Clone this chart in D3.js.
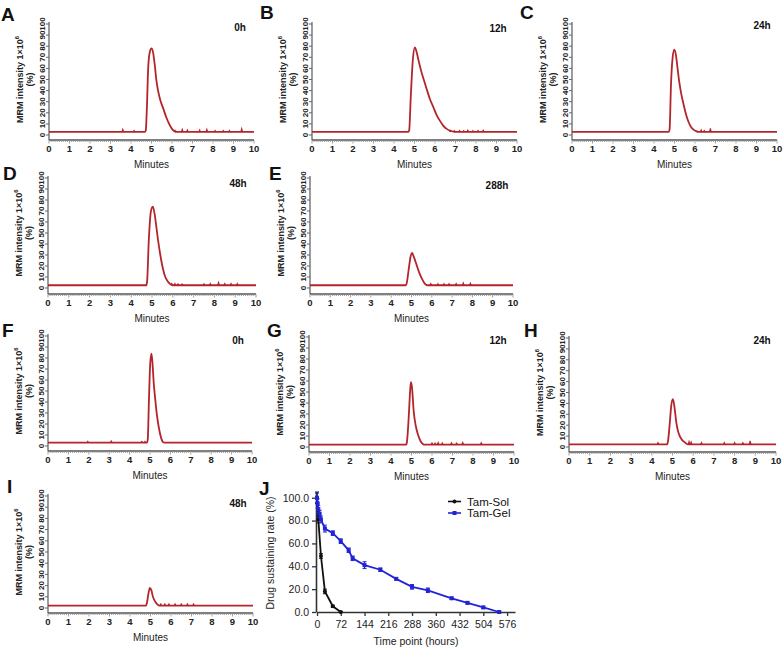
<!DOCTYPE html>
<html><head><meta charset="utf-8">
<script src="https://cdn.jsdelivr.net/npm/d3@7"></script>
<style>body{margin:0;background:#fff}svg{display:block;font-family:"Liberation Sans",Arial,sans-serif}</style>
</head><body>
<script>
// ---------- data ----------
const minuteTicks = [0,1,2,3,4,5,6,7,8,9,10];
const intensityTicks = [0,10,20,30,40,50,60,70,80,90,100];
const panelLetters = ["A","B","C","D","E","F","G","H","I"];
const timeLabels = ["0h","12h","24h","48h","288h","0h","12h","24h","48h"];

const traceA = [[0,2.8],[4.68,2.8],[4.72,4],[4.77,22],[4.84,61],[4.92,75],[5.0,78],[5.08,74],[5.16,63],[5.24,49],[5.32,40],[5.42,32],[5.57,24],[5.72,16],[5.86,10],[6.0,5.5],[6.12,3.5],[6.25,2.8],[10,2.8]];
const spikesA = [[3.6,5],[4.15,4],[6.15,4],[6.5,5],[6.75,4.5],[7.35,4.5],[7.7,5],[8.1,4],[8.5,4],[8.8,4],[9.4,5.5]];
const traceB = [[0,2.8],[4.7,2.8],[4.74,4],[4.82,35],[4.92,68],[5.02,79],[5.1,75],[5.2,67],[5.32,58],[5.45,50],[5.6,41],[5.76,32],[5.92,25],[6.08,18],[6.25,12.5],[6.4,8.5],[6.57,5.5],[6.75,3.8],[6.9,3],[7.0,2.8],[10,2.8]];
const spikesB = [[6.75,4],[6.95,3.8],[7.2,4],[7.4,3.8],[7.6,4.2],[7.85,3.8],[8.1,4],[8.35,4.2]];
const traceC = [[0,2.8],[4.72,2.8],[4.76,5],[4.83,46],[4.91,70],[4.99,77],[5.07,72],[5.15,60],[5.23,48],[5.32,38],[5.45,27],[5.57,18],[5.69,11.5],[5.8,7.5],[5.93,4.8],[6.05,3.5],[6.18,2.8],[10,2.8]];
const spikesC = [[6.3,4.5],[6.45,4],[6.75,6]];
const traceD = [[0,2.5],[4.72,2.5],[4.76,5],[4.85,45],[4.95,70],[5.04,74],[5.12,68],[5.2,57],[5.28,45],[5.4,30],[5.52,18],[5.64,10],[5.76,6],[5.92,3],[6.0,2.5],[10,2.5]];
const spikesD = [[5.95,4],[6.1,4],[6.25,3.8],[6.45,3.6],[7.5,3.8],[7.8,4],[8.2,5],[8.5,4],[8.8,4],[9.1,4]];
const traceE = [[0,2.5],[4.72,2.5],[4.76,4],[4.87,18],[4.95,28],[5.03,31.8],[5.12,28],[5.25,21],[5.38,14],[5.5,9],[5.6,5.5],[5.7,3.2],[5.78,2.5],[10,2.5]];
const spikesE = [[5.95,4],[6.3,3.8],[6.6,3.8],[6.85,3.8],[7.2,4],[7.55,4.5],[7.9,4.2]];
const traceF = [[0,3],[4.85,3],[4.89,6],[4.95,43],[5.01,75],[5.07,84],[5.12,76],[5.18,58],[5.26,42],[5.34,28],[5.45,15],[5.56,6.5],[5.64,3.5],[5.7,3],[10,3]];
const spikesF = [[1.95,4.2],[3.1,4.5],[4.6,4],[4.75,4]];
const traceG = [[0,2.2],[4.74,2.2],[4.78,5],[4.87,29],[4.93,50],[4.97,59],[5.02,55],[5.11,32],[5.2,20],[5.33,10.5],[5.44,5.5],[5.54,3],[5.6,2.2],[10,2.2]];
const spikesG = [[6.0,3.6],[6.15,3.5],[6.3,4],[6.5,3.6],[6.95,3.8],[7.2,3.5],[7.5,4],[8.4,3.8]];
const traceH = [[0,2.4],[4.74,2.4],[4.78,5],[4.86,20],[4.94,38],[5.02,44],[5.1,36],[5.18,23],[5.26,15],[5.34,10.5],[5.46,6.5],[5.58,4.5],[5.74,2.4],[10,2.4]];
const spikesH = [[4.3,4],[5.8,5],[5.9,4.5],[6.4,4],[7.5,4],[8.0,4],[8.4,3.8],[8.75,5.5]];
const traceI = [[0,2.2],[4.78,2.2],[4.82,4],[4.9,13],[4.97,18],[5.04,16],[5.12,10],[5.22,6],[5.32,3.5],[5.42,2.2],[10,2.2]];
const spikesI = [[5.5,3.5],[5.7,3.5],[5.9,3.5],[6.2,3.6],[6.5,3.6],[6.8,3.6],[7.1,3.5]];

const traces = [traceA,traceB,traceC,traceD,traceE,traceF,traceG,traceH,traceI];
const spikes = [spikesA,spikesB,spikesC,spikesD,spikesE,spikesF,spikesG,spikesH,spikesI];

// panel J
const hourTicks = [0,72,144,216,288,360,432,504,576];
const rateTicks = [0,20,40,60,80,100];
const solTimes = [0,4,12,24,48,72];
const solValues = [100,81,49,18,5,0];
const solErrors = [5,3,2,2,1,0.5];
const gelTimes = [0,2,4,8,12,24,48,72,96,108,144,192,240,288,336,408,456,504,552];
const gelValues = [100,95,90,86,81,73,69,62,54,47,41,37,29,22,19,12,8,4,0];
const gelErrors = [4,4,3,3,3,3,2,2,2,2,3,1.5,1,2,2,1,1,1,0.5];
const seriesNames = ["Tam-Sol","Tam-Gel"];

// ---------- layout ----------
const layout = [
  {x0:49,x1:254,yT:24,yB:135,ax:140, L:[1,21], T:[240,27]},
  {x0:312,x1:517,yT:24,yB:135,ax:140, L:[260,19], T:[498,28]},
  {x0:572,x1:777,yT:24,yB:135,ax:140, L:[520,19], T:[762,25]},
  {x0:48,x1:256,yT:178,yB:288,ax:294, L:[3,180], T:[238,183]},
  {x0:310,x1:513,yT:178,yB:288,ax:294, L:[269,180], T:[497,185]},
  {x0:48,x1:252,yT:336,yB:446,ax:451, L:[2,337], T:[238,340]},
  {x0:309,x1:514,yT:337,yB:447,ax:452, L:[267,337], T:[498,340]},
  {x0:569,x1:776,yT:338,yB:447,ax:452, L:[524,337], T:[762,340]},
  {x0:48,x1:253,yT:496,yB:608,ax:613, L:[7,493], T:[238,503]}
];
const RED = "#b3252b";

const svg = d3.select("body").append("svg").attr("width",783).attr("height",648);

layout.forEach((p,i)=>{
  const g = svg.append("g");
  const x = d3.scaleLinear().domain([0,10]).range([p.x0,p.x1]);
  const y = d3.scaleLinear().domain([0,100]).range([p.yB,p.yT]);
  // y axis
  g.append("line").attr("x1",p.x0).attr("x2",p.x0).attr("y1",p.yT-2).attr("y2",p.ax)
    .attr("stroke","#666").attr("stroke-width",1.3);
  intensityTicks.forEach(v=>{
    g.append("line").attr("x1",p.x0-3).attr("x2",p.x0).attr("y1",y(v)).attr("y2",y(v)).attr("stroke","#666");
    g.append("text").attr("transform",`translate(${p.x0-4},${y(v)}) rotate(-90)`)
      .attr("text-anchor","middle").attr("font-size",8).attr("font-weight","bold").attr("fill","#222").text(v);
  });
  // x axis
  g.append("line").attr("x1",p.x0).attr("x2",p.x1).attr("y1",p.ax).attr("y2",p.ax)
    .attr("stroke","#555").attr("stroke-width",1.4);
  d3.range(0,101).forEach(k=>{
    const xv = k/10;
    g.append("line").attr("x1",x(xv)).attr("x2",x(xv)).attr("y1",p.ax).attr("y2",p.ax+(k%10===0?3.5:2))
      .attr("stroke","#888").attr("stroke-width",0.8);
  });
  minuteTicks.forEach(v=>{
    g.append("text").attr("x",x(v)).attr("y",p.ax+12).attr("text-anchor","middle")
      .attr("font-size",9.5).attr("font-weight","bold").attr("fill","#222").text(v);
  });
  g.append("text").attr("x",(p.x0+p.x1)/2).attr("y",p.ax+28).attr("text-anchor","middle")
    .attr("font-size",10).attr("fill","#222").text("Minutes");
  // y title
  const cy = (p.yT+p.yB)/2;
  const t1 = g.append("text").attr("transform",`translate(${p.x0-26},${cy}) rotate(-90)`)
    .attr("text-anchor","middle").attr("font-size",9).attr("font-weight","bold").attr("fill","#222");
  t1.append("tspan").text("MRM intensity 1×10");
  t1.append("tspan").attr("font-size",6).attr("dy",-4).text("6");
  g.append("text").attr("transform",`translate(${p.x0-16},${cy}) rotate(-90)`)
    .attr("text-anchor","middle").attr("font-size",9).attr("font-weight","bold").attr("fill","#222").text("(%)");
  // trace
  const line = d3.line().x(d=>x(d[0])).y(d=>y(d[1])).curve(d3.curveMonotoneX);
  g.append("path").attr("d",line(traces[i])).attr("fill","none").attr("stroke",RED).attr("stroke-width",1.8);
  const base = traces[i][0][1];
  const sl = d3.line().x(d=>x(d[0])).y(d=>y(d[1]));
  spikes[i].forEach(s=>{
    g.append("path").attr("d",sl([[s[0]-0.04,base],[s[0],s[1]],[s[0]+0.04,base]]))
      .attr("fill","none").attr("stroke",RED).attr("stroke-width",1.2);
  });
  // labels
  g.append("text").attr("x",p.L[0]).attr("y",p.L[1]).attr("font-size",19).attr("font-weight","bold").attr("fill","#111").text(panelLetters[i]);
  g.append("text").attr("x",p.T[0]).attr("y",p.T[1]+3.5).attr("text-anchor","middle").attr("font-size",10).attr("font-weight","bold").attr("fill","#111").text(timeLabels[i]);
});

// ---------- panel J ----------
{
  const g = svg.append("g");
  const x = d3.scaleLinear().domain([0,600]).range([317,515]);
  const y = d3.scaleLinear().domain([0,105]).range([612,492]);
  g.append("text").attr("x",259).attr("y",495).attr("font-size",19).attr("font-weight","bold").attr("fill","#111").text("J");
  const xa = g.append("g").attr("transform","translate(0,612)")
    .call(d3.axisBottom(x).tickValues(hourTicks).tickSize(4).tickSizeOuter(0));
  const ya = g.append("g").attr("transform","translate(316,0)")
    .call(d3.axisLeft(y).tickValues(rateTicks).tickFormat(d3.format(".1f")).tickSize(4).tickSizeOuter(0));
  [xa,ya].forEach(a=>{
    a.select(".domain").attr("stroke","#333").attr("stroke-width",1.6);
    a.selectAll(".tick line").attr("stroke","#333").attr("stroke-width",1.3);
    a.selectAll("text").attr("font-size",10.5).attr("font-family","Liberation Sans, Arial, sans-serif").attr("fill","#222");
  });
  xa.selectAll("text").attr("dy","0.9em");
  g.append("text").attr("x",416).attr("y",645).attr("text-anchor","middle").attr("font-size",10.5).attr("fill","#222").text("Time point (hours)");
  g.append("text").attr("transform","translate(274,553) rotate(-90)").attr("text-anchor","middle").attr("font-size",10.5).attr("fill","#222").text("Drug sustaining rate (%)");

  const series = [
    {t:solTimes,v:solValues,e:solErrors,c:"#111"},
    {t:gelTimes,v:gelValues,e:gelErrors,c:"#2323d6"}
  ];
  series.forEach((s,si)=>{
    const pts = s.t.map((t,k)=>[t,s.v[k],s.e[k]]);
    g.append("path").attr("d",d3.line().x(d=>x(d[0])).y(d=>y(d[1]))(pts))
      .attr("fill","none").attr("stroke",s.c).attr("stroke-width",1.8);
    pts.forEach(d=>{
      g.append("line").attr("x1",x(d[0])).attr("x2",x(d[0])).attr("y1",y(d[1]-d[2])).attr("y2",y(d[1]+d[2])).attr("stroke",s.c).attr("stroke-width",1.2);
      g.append("line").attr("x1",x(d[0])-2).attr("x2",x(d[0])+2).attr("y1",y(d[1]+d[2])).attr("y2",y(d[1]+d[2])).attr("stroke",s.c).attr("stroke-width",1);
      g.append("line").attr("x1",x(d[0])-2).attr("x2",x(d[0])+2).attr("y1",y(d[1]-d[2])).attr("y2",y(d[1]-d[2])).attr("stroke",s.c).attr("stroke-width",1);
      if(si===0) g.append("circle").attr("cx",x(d[0])).attr("cy",y(d[1])).attr("r",2).attr("fill",s.c);
      else g.append("rect").attr("x",x(d[0])-2).attr("y",y(d[1])-2).attr("width",4).attr("height",4).attr("fill",s.c);
    });
    // legend
    const ly = 501.5 + si*11.5;
    g.append("line").attr("x1",448).attr("x2",461).attr("y1",ly).attr("y2",ly).attr("stroke",s.c).attr("stroke-width",1.6);
    if(si===0) g.append("circle").attr("cx",454.5).attr("cy",ly).attr("r",2).attr("fill",s.c);
    else g.append("rect").attr("x",452.5).attr("y",ly-2).attr("width",4).attr("height",4).attr("fill",s.c);
    g.append("text").attr("x",467).attr("y",ly+4).attr("font-size",11.5).attr("fill","#111").text(seriesNames[si]);
  });
}
</script>
</body></html>
